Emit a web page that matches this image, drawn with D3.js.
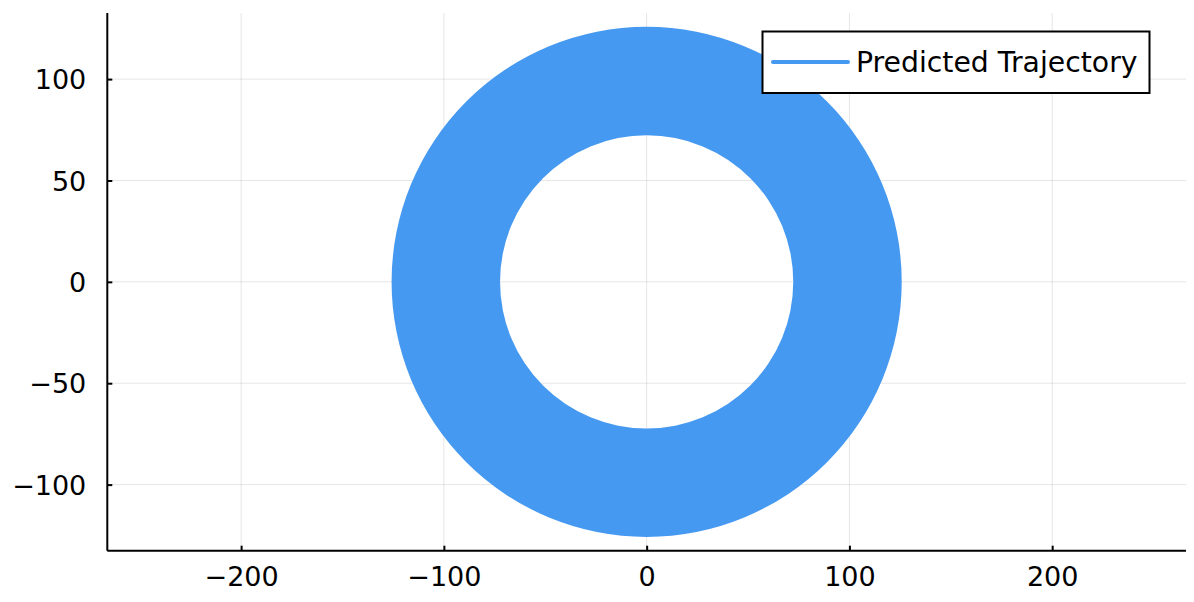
<!DOCTYPE html>
<html>
<head>
<meta charset="utf-8">
<script src="https://cdn.jsdelivr.net/npm/d3@7"></script>
<style>
  body { margin: 0; background: #fff; }
  text { font-family: "DejaVu Sans", sans-serif; fill: #000; }
</style>
</head>
<body>
<div id="chart"></div>
<script>
// axis limits and ticks
var xLimits = [-266, 266];
var yLimits = [-132.6, 132.6];
var xTicks = [-200, -100, 0, 100, 200];
var yTicks = [-100, -50, 0, 50, 100];

// the trajectory sweeps a band between these radii around the origin
var seriesName = "Predicted Trajectory";
var bandCenter = [0, 0];
var bandRadius = [72.3, 125.8];

var width = 1194;
var height = 602;
var plotLeft = 107.3, plotRight = 1186, plotTop = 13, plotBottom = 550.7;
var color = "#4699f1";

var svg = d3.select("#chart")
    .append("svg")
    .attr("width", width)
    .attr("height", height);

var x = d3.scaleLinear().domain(xLimits).range([plotLeft, plotRight]);
var y = d3.scaleLinear().domain(yLimits).range([plotBottom, plotTop]);

// grid
svg.append("g").selectAll("line")
    .data(xTicks).enter().append("line")
    .attr("x1", d => x(d)).attr("x2", d => x(d))
    .attr("y1", plotTop).attr("y2", plotBottom)
    .attr("stroke", "#000").attr("stroke-opacity", 0.1).attr("stroke-width", 1);
svg.append("g").selectAll("line")
    .data(yTicks).enter().append("line")
    .attr("x1", plotLeft).attr("x2", plotRight)
    .attr("y1", d => y(d)).attr("y2", d => y(d))
    .attr("stroke", "#000").attr("stroke-opacity", 0.1).attr("stroke-width", 1);

// trajectory band
var arc = d3.arc()
    .innerRadius(x(bandRadius[0]) - x(0))
    .outerRadius(x(bandRadius[1]) - x(0))
    .startAngle(0)
    .endAngle(2 * Math.PI);

svg.append("path")
    .attr("transform", "translate(" + x(bandCenter[0]) + "," + y(bandCenter[1]) + ")")
    .attr("d", arc())
    .attr("fill", color);

// axes
var fmt = d => (d < 0 ? "\u2212" + Math.abs(d) : "" + d);

var xAxis = d3.axisBottom(x).tickValues(xTicks).tickSize(-5).tickPadding(16).tickFormat(fmt);
var yAxis = d3.axisLeft(y).tickValues(yTicks).tickSize(-5).tickPadding(21).tickFormat(fmt);

var gx = svg.append("g").attr("transform", "translate(0," + plotBottom + ")").call(xAxis);
var gy = svg.append("g").attr("transform", "translate(" + plotLeft + ",0)").call(yAxis);

gx.select(".domain").attr("d", "M" + plotLeft + ",0H" + plotRight);
gy.select(".domain").attr("d", "M0," + plotBottom + "V" + plotTop);
[gx, gy].forEach(function (g) {
    g.select(".domain").attr("stroke", "#000").attr("stroke-width", 2);
    g.selectAll(".tick line").attr("stroke", "#000").attr("stroke-width", 2);
    g.selectAll(".tick text").style("font-size", "27px").attr("fill", "#000");
});
gy.selectAll(".tick text").attr("dy", "0.36em");

// legend
var legend = svg.append("g");
legend.append("rect")
    .attr("x", 762.5).attr("y", 31.5)
    .attr("width", 387).attr("height", 61.5)
    .attr("fill", "#fff").attr("stroke", "#000").attr("stroke-width", 2);
legend.append("line")
    .attr("x1", 773).attr("x2", 848)
    .attr("y1", 62).attr("y2", 62)
    .attr("stroke", color).attr("stroke-width", 4).attr("stroke-linecap", "round");
legend.append("text")
    .attr("x", 856).attr("y", 62).attr("dy", "0.36em")
    .style("font-size", "28.3px")
    .text(seriesName);
</script>
</body>
</html>
